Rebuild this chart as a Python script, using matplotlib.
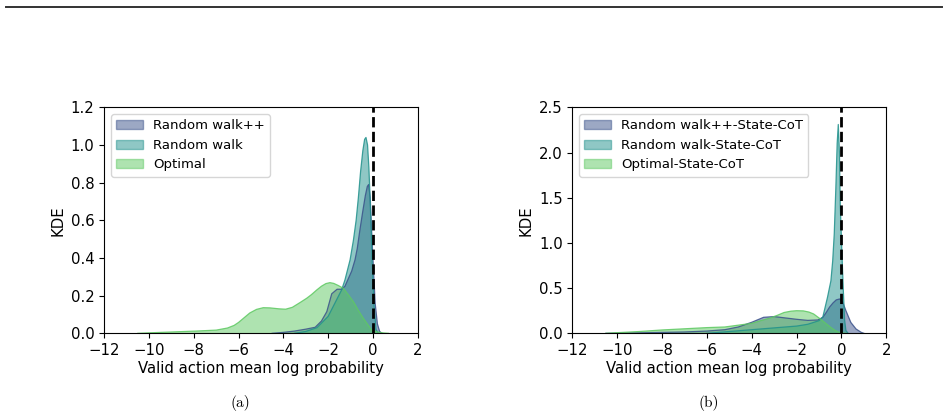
import matplotlib
matplotlib.use("Agg")
import matplotlib.pyplot as plt
from matplotlib.patches import Patch
from matplotlib.lines import Line2D

# ---- data ----
# Panel (a)
a_rwpp_x = [-4.5, -4.0, -3.5, -3.0, -2.58, -2.3, -2.06, -1.84, -1.6, -1.4, -1.25, -1.1, -0.95, -0.8,
            -0.7, -0.58, -0.45, -0.34, -0.25, -0.19, -0.12, -0.06, 0.0, 0.05, 0.1, 0.2, 0.3, 0.4]
a_rwpp_y = [0.0, 0.005, 0.012, 0.022, 0.032, 0.065, 0.115, 0.21, 0.234, 0.234, 0.25, 0.29, 0.33, 0.39,
            0.45, 0.55, 0.65, 0.73, 0.78, 0.79, 0.72, 0.55, 0.4, 0.28, 0.16, 0.05, 0.01, 0.0]
a_rw_x = [-3.5, -3.0, -2.5, -2.0, -1.7, -1.4, -1.25, -1.02, -0.87, -0.75, -0.65, -0.55, -0.45, -0.37,
          -0.31, -0.24, -0.18, -0.13, -0.07, -0.03, 0.05, 0.14, 0.25]
a_rw_y = [0.0, 0.01, 0.03, 0.09, 0.16, 0.23, 0.283, 0.39, 0.495, 0.6, 0.72, 0.86, 0.97, 1.03,
          1.04, 1.0, 0.88, 0.73, 0.52, 0.37, 0.15, 0.02, 0.0]
a_opt_x = [-10.5, -9.9, -9.0, -7.9, -7.0, -6.5, -6.2, -6.0, -5.8, -5.5, -5.2, -4.9, -4.6, -4.2, -3.9,
           -3.6, -3.26, -2.96, -2.75, -2.51, -2.3, -2.1, -1.92, -1.75, -1.55, -1.32, -1.1, -0.87, -0.65,
           -0.43, -0.25, -0.06, 0.2, 0.47, 0.7]
a_opt_y = [0.0, 0.003, 0.007, 0.012, 0.017, 0.028, 0.042, 0.058, 0.078, 0.108, 0.127, 0.136, 0.135,
           0.13, 0.128, 0.138, 0.163, 0.186, 0.205, 0.23, 0.25, 0.264, 0.269, 0.265, 0.254, 0.239, 0.205,
           0.168, 0.122, 0.08, 0.05, 0.018, 0.007, 0.002, 0.0]

# Panel (b)
b_rwpp_x = [-10.5, -9.0, -8.0, -7.0, -6.0, -5.2, -4.6, -4.0, -3.47, -3.0, -2.5, -2.0, -1.5, -1.05,
            -0.83, -0.68, -0.53, -0.38, -0.23, -0.08, 0.05, 0.2, 0.42, 0.65, 0.88, 1.0]
b_rwpp_y = [0.0, 0.005, 0.01, 0.015, 0.025, 0.04, 0.07, 0.122, 0.177, 0.185, 0.17, 0.155, 0.143, 0.148,
            0.177, 0.23, 0.29, 0.335, 0.37, 0.38, 0.35, 0.25, 0.12, 0.048, 0.011, 0.0]
b_rw_x = [-6.0, -5.0, -4.0, -3.0, -2.0, -1.5, -1.0, -0.83, -0.62, -0.47, -0.39, -0.32, -0.25, -0.19,
          -0.14, -0.09, -0.05, 0.02, 0.08, 0.14, 0.2, 0.3]
b_rw_y = [0.0, 0.02, 0.04, 0.06, 0.08, 0.1, 0.14, 0.18, 0.40, 0.58, 0.80, 1.1, 1.6, 2.1,
          2.31, 2.0, 1.4, 0.9, 0.5, 0.15, 0.03, 0.0]
b_opt_x = [-10.5, -10.0, -9.0, -8.0, -7.0, -6.0, -5.2, -4.6, -4.0, -3.6, -3.17, -2.85, -2.56, -2.25,
           -2.0, -1.7, -1.45, -1.24, -0.94, -0.7, -0.48, -0.3, -0.11, 0.2]
b_opt_y = [0.0, 0.007, 0.02, 0.037, 0.05, 0.063, 0.07, 0.09, 0.11, 0.14, 0.17, 0.2, 0.23, 0.245,
           0.25, 0.248, 0.235, 0.214, 0.159, 0.11, 0.066, 0.035, 0.011, 0.0]

labels_a = ["Random walk++", "Random walk", "Optimal"]
labels_b = ["Random walk++-State-CoT", "Random walk-State-CoT", "Optimal-State-CoT"]
colors = ["#3b528b", "#21918c", "#5ec962"]
xticks = [-12, -10, -8, -6, -4, -2, 0, 2]
yticks_a = [0.0, 0.2, 0.4, 0.6, 0.8, 1.0, 1.2]
yticks_b = [0.0, 0.5, 1.0, 1.5, 2.0, 2.5]

plt.rcParams["font.family"] = ["DejaVu Sans"]
plt.rcParams["font.size"] = 10.7

fig = plt.figure(figsize=(9.48, 4.19), dpi=100)

# top rule
fig.add_artist(Line2D([0.006, 0.994], [1 - 7 / 419, 1 - 7 / 419], color="#333333", lw=1.4,
                      transform=fig.transFigure))

ax_a = fig.add_axes([0.110, 0.2045, 0.3306, 0.5394])
ax_b = fig.add_axes([0.6037, 0.2045, 0.3312, 0.5394])

def draw(ax, series, labels, yticks, ymax):
    for (xs, ys), c, lab in zip(series, colors, labels):
        ax.fill_between(xs, ys, 0, facecolor=c, alpha=0.5, edgecolor="none")
        ax.plot(xs, ys, color=c, lw=0.9, alpha=0.85)
    ax.axvline(0, color="black", ls="--", lw=2)
    ax.set_xlim(-12, 2)
    ax.set_ylim(0, ymax)
    ax.set_xticks(xticks)
    ax.set_xticklabels(["\u2212" + str(-t) if t < 0 else str(t) for t in xticks])
    ax.set_yticks(yticks)
    ax.set_yticklabels([f"{t:.1f}" for t in yticks])
    ax.tick_params(labelsize=10.7)
    ax.set_xlabel("Valid action mean log probability", labelpad=2, fontsize=10.7)
    ax.set_ylabel("KDE", fontsize=10.7)
    handles = [Patch(facecolor=c, edgecolor=c, alpha=0.5, lw=1) for c in colors]
    ax.legend(handles, labels, loc="upper left", fontsize=9.5, framealpha=0.8)

draw(ax_a, [(a_rwpp_x, a_rwpp_y), (a_rw_x, a_rw_y), (a_opt_x, a_opt_y)], labels_a, yticks_a, 1.2)
draw(ax_b, [(b_rwpp_x, b_rwpp_y), (b_rw_x, b_rw_y), (b_opt_x, b_opt_y)], labels_b, yticks_b, 2.5)

fig.text(240 / 948, 1 - 403 / 419, "(a)", family="cmr10", fontsize=11, ha="center", va="center")
fig.text(709 / 948, 1 - 403 / 419, "(b)", family="cmr10", fontsize=11, ha="center", va="center")

fig.savefig("out.png", dpi=100)
